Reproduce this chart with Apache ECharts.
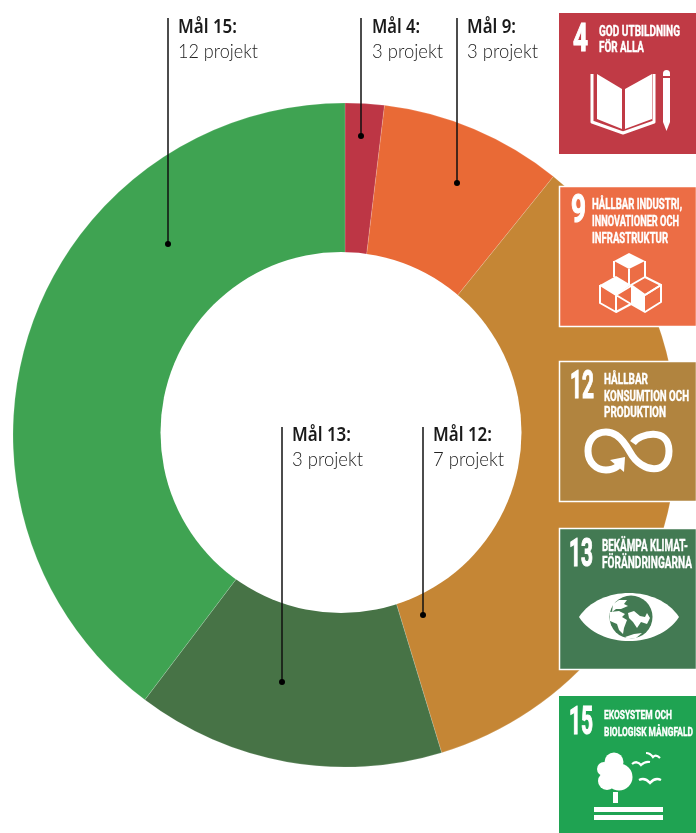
<!DOCTYPE html>
<html><head><meta charset="utf-8">
<style>html,body{margin:0;padding:0;background:#fff}#c{width:696px;height:833px}</style>
<script src="https://cdn.jsdelivr.net/npm/echarts@6/dist/echarts.min.js"></script>
</head><body><div id="c"></div>
<script>
// Data
const goals = ['Mål 4:', 'Mål 9:', 'Mål 12:', 'Mål 13:', 'Mål 15:'];
const projectLabels = ['3 projekt', '3 projekt', '7 projekt', '3 projekt', '12 projekt'];
const shares = [1.9, 8.9, 34.5, 15, 39.7];
const sliceColors = ['#BD3645', '#E96A36', '#C58635', '#477346', '#3FA352'];

// Annotation layout: [line x, line top, dot y, text x, first text y, text width]
const leaders = [
  [361, 18, 136, 372, 28, 48], [457, 18, 183, 467, 28, 49], [423, 427, 615, 433, 436, 59],
  [282, 427, 682, 292, 436, 59], [168, 18, 244, 178, 28, 59]
];
// Goal tiles
const tileNumbers = ['4', '9', '12', '13', '15'];
const tileTexts = [
  ['GOD UTBILDNING', 'FÖR ALLA'],
  ['HÅLLBAR INDUSTRI,', 'INNOVATIONER OCH', 'INFRASTRUKTUR'],
  ['HÅLLBAR', 'KONSUMTION OCH', 'PRODUKTION'],
  ['BEKÄMPA KLIMAT-', 'FÖRÄNDRINGARNA'],
  ['EKOSYSTEM OCH', 'BIOLOGISK MÅNGFALD']
];
const tileColors = ['#C03A45', '#EC6D45', '#B1843F', '#437A53', '#1FA352'];
const tileBoxes = [[559, 13, 137, 141], [559, 186, 137, 140], [559, 361, 137, 140], [559, 528, 137, 141], [559, 696, 137, 137]];
// number: x, centre y, width; text: x, font size, line y's, line widths
const tileNumLayout = [[573, 41, 15], [571, 212, 15], [570, 388, 24], [569, 556, 24], [569, 724, 24]];
const tileTextLayout = [
  [599, 15, [32, 48], [81, 45]],
  [592, 14, [205, 222, 239], [90, 87, 76]],
  [604, 14, [380, 397, 413], [44, 85, 62]],
  [602, 16, [547, 564], [86, 90]],
  [604, 13.5, [716, 733], [68, 89]]
];

const measure = document.createElement('canvas').getContext('2d');
const NARROW = '"Liberation Sans Narrow","Roboto","Liberation Sans",sans-serif';
function fitText(text, x, y, font, fill, width, heavy) {
  measure.font = font;
  const w = measure.measureText(text).width;
  const style = {text, font, fill, align: 'left', verticalAlign: 'middle'};
  if (heavy) { style.stroke = fill; style.lineWidth = heavy; }
  return {type: 'text', x, y, scaleX: width / w, scaleY: 1, style};
}
const p = (d, style) => ({type: 'path',
  shape: {pathData: 'M0 0L0 0M696 833L696 833' + d, x: 0, y: 0, width: 696, height: 833, layout: 'cover'},
  style});
const fillW = {fill: '#fff'};
const lineW = w => ({fill: 'none', stroke: '#fff', lineWidth: w, lineJoin: 'round'});

function icons() {
  const el = [];
  // book + pencil
  el.push(p('M592 74L592 122L623 133L654 122L654 74', lineW(3)));
  el.push(p('M597 74L622 89L622 129L597 119Z', fillW));
  el.push(p('M625 89L652 74L652 119L625 129Z', fillW));
  el.push(p('M663 76L663 73.5A3.5 3.5 0 0 1 670 73.5L670 76Z', fillW));
  el.push(p('M663 78L670 78L670 122L666.5 131L663 122Z', fillW));
  // cubes
  el.push(p('M614 261L614 277M645 261L645 277M629 269L629 285', lineW(2)));
  el.push(p('M600 285L600 303L616 312L631 304L645 312L661 302L661 285L645 295M600 285L616 295L616 312M616 295L631 304M631 286L616 295', lineW(2)));
  el.push(p('M629 253L645 261L629 269L614 261Z', fillW));
  el.push(p('M616 276L631 285L616 295L600 285Z', fillW));
  el.push(p('M645 277L661 285L645 295L631 285Z', lineW(2)));
  el.push(p('M631 285L645 295L645 312L631 304Z', fillW));
  // infinity
  el.push(p('M633 443C640 433 669 427 669 451C669 475 642 474 630 452C620 434 612 432 606 432C594 432 588 441 588 451C588 462 596 470 606 470C610 470 614 469 618 466',
    {fill: 'none', stroke: '#fff', lineWidth: 7, lineCap: 'butt'}));
  el.push(p('M610 460L625 457L624 472Z', fillW));
  // eye + globe
  const g = tileColors[3];
  el.push(p('M579 617C600 585 658 585 679 617C658 649 600 649 579 617Z', fillW));
  el.push({type: 'circle', shape: {cx: 631, cy: 617, r: 21.5}, style: {fill: g}});
  el.push(p('M613 604L619 600L627 600L624 604L628 606L621 609L616 609L612 612Z', fillW));
  el.push(p('M610 612L619 611L625 614L622 617L627 620L624 628L623 634L619 630L617 624L610 621Z', fillW));
  el.push(p('M628 613L634 611L640 616L645 617L647 613L650 618L647 624L641 622L637 628L633 622L629 618Z', fillW));
  el.push(p('M625 637L634 634L642 633L636 638L628 639Z', fillW));
  // tree + birds
  el.push({type: 'circle', shape: {cx: 614, cy: 762, r: 9.5}, style: fillW});
  el.push({type: 'circle', shape: {cx: 604, cy: 769, r: 7}, style: fillW});
  el.push({type: 'circle', shape: {cx: 619, cy: 777, r: 13.5}, style: fillW});
  el.push({type: 'circle', shape: {cx: 607, cy: 781, r: 9}, style: fillW});
  el.push({type: 'rect', shape: {x: 613, y: 792, width: 5, height: 11}, style: fillW});
  el.push({type: 'rect', shape: {x: 594, y: 807, width: 69, height: 5}, style: fillW});
  el.push({type: 'rect', shape: {x: 594, y: 815, width: 69, height: 5}, style: fillW});
  el.push(p('M646 753Q650 753 653 757Q656 754 660 758', {fill: 'none', stroke: '#fff', lineWidth: 2.2}));
  el.push(p('M632 764Q637 760 641 765Q645 761 650 762', {fill: 'none', stroke: '#fff', lineWidth: 2.2}));
  el.push(p('M639 780Q645 777 650 783Q655 777 661 780', {fill: 'none', stroke: '#fff', lineWidth: 2.4}));
  return el;
}

function overlay() {
  const el = [];
  // off-centre hole of the ring
  el.push({type: 'circle', shape: {cx: 341, cy: 432.5, r: 180.5}, style: {fill: '#fff'}});
  // tiles
  tileBoxes.forEach((b, i) => {
    const bordered = i > 0 && i < 4;
    el.push({type: 'rect', shape: {x: b[0] + (bordered ? .5 : 0), y: b[1] + (bordered ? .5 : 0), width: b[2], height: b[3]},
      style: {fill: tileColors[i], stroke: bordered ? '#fff' : 'none', lineWidth: bordered ? 1.5 : 0}});
    const n = tileNumLayout[i];
    el.push(fitText(tileNumbers[i], n[0], n[1], '700 39px ' + NARROW, '#fff', n[2], 1.2));
    const t = tileTextLayout[i];
    tileTexts[i].forEach((s, k) => el.push(fitText(s, t[0], t[2][k], '700 ' + t[1] + 'px ' + NARROW, '#fff', t[3][k], 0.4)));
  });
  icons().forEach(e => el.push(e));
  // leaders and labels
  leaders.forEach((l, i) => {
    el.push({type: 'line', shape: {x1: l[0], y1: l[1], x2: l[0], y2: l[2]}, style: {stroke: '#111', lineWidth: 1.5}});
    el.push({type: 'circle', shape: {cx: l[0], cy: l[2], r: 3}, style: {fill: '#000'}});
    el.push(fitText(goals[i], l[3], l[4], '600 19px "Noto Sans",sans-serif', '#1a1a1a', l[5]));
    el.push(fitText(projectLabels[i], l[3], l[4] + 24, '300 20px Lato,sans-serif', '#222', i === 4 ? 80 : 71));
  });
  return el;
}

const chart = echarts.init(document.getElementById('c'), null, {renderer: 'canvas'});
chart.setOption({
  animation: false,
  backgroundColor: '#fff',
  series: [
    {type: 'pie', silent: true, center: [345, 435], radius: [165, 332], startAngle: 90,
     label: {show: false}, labelLine: {show: false}, z: 2,
     itemStyle: {borderColor: 'rgba(255,255,255,0.3)', borderWidth: 0.5},
     emphasis: {disabled: true},
     data: goals.map((g, i) => ({name: g, value: shares[i], itemStyle: {color: sliceColors[i]}}))},
    {type: 'custom', coordinateSystem: 'none', silent: true, z: 5, data: [[0]],
     renderItem: () => ({type: 'group', children: overlay()})}
  ]
});
</script></body></html>
